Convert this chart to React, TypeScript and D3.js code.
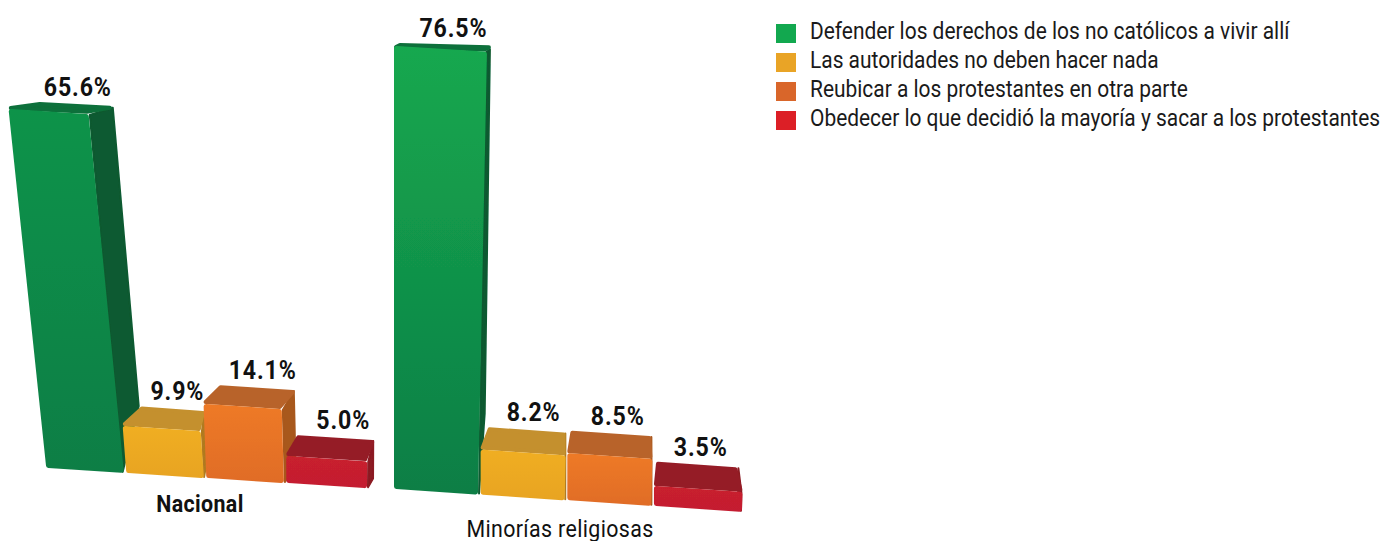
import React from "react";
import * as d3 from "d3";

// ---- data ----
const seriesNames = [
  "Defender los derechos de los no católicos a vivir allí",
  "Las autoridades no deben hacer nada",
  "Reubicar a los protestantes en otra parte",
  "Obedecer lo que decidió la mayoría y sacar a los protestantes",
];
const nacionalValues = [65.6, 9.9, 14.1, 5.0];
const minoriasValues = [76.5, 8.2, 8.5, 3.5];
const groupLabels = ["Nacional", "Minorías religiosas"];

// ---- styles ----
const legendColors = ["#12a84f", "#e9a426", "#d9662a", "#dc1f26"];
const frontBottom = ["#0d7e45", "#e8a424", "#e06c28", "#c41e30"];
const topColors = ["#0d6f3a", "#c4902e", "#b8642a", "#951c26"];
const sideColors = ["#0a5a30", "#b07a20", "#a8581f", "#8c1a22"];

const LABEL_FONT = "Roboto, 'Noto Sans', sans-serif";

// ---- layout of each group (perspective of the picture) ----
const groups = [
  {
    name: groupLabels[0],
    bold: true,
    values: nacionalValues,
    frontTop: ["#10934a", "#f0ae22", "#ee7a26", "#c8202e"],
    xRange: [46, 364],
    widthExtra: [0, 0, 0, 3],
    baseY: 468,
    baseSlope: 0.0627,
    heights: [0, 27, 47, 74, 359],
    knots: [0, 5, 9.9, 14.1, 65.6],
    leanOrigin: 287,
    leanK: 0.00043,
    leanExtra: 0.027,
    depthL: [29, 17, 15, 10],
    depthR: [23, 4, 13, 7],
    labelDx: [3, 5, 6, 8],
    depthY0: 7,
    depthYRef: 110,
    depthYK: 0.04,
    labelX: 200,
    labelY: 512,
  },
  {
    name: groupLabels[1],
    bold: false,
    values: minoriasValues,
    frontTop: ["#15a84f", "#f0ae22", "#ee7a26", "#c8202e"],
    xRange: [394, 738],
    widthExtra: [0, 0, 0, 4],
    baseY: 489,
    baseSlope: 0.0655,
    heights: [0, 20, 45, 47, 443],
    knots: [0, 3.5, 8.2, 8.5, 76.5],
    leanOrigin: 394,
    leanK: 0,
    leanExtra: -0.02,
    depthL: [4, 7, 3, 2],
    depthR: [4, 0, -1, -5],
    labelDx: [9, 7, 7, 4],
    depthY0: 3,
    depthYRef: 45,
    depthYK: 0.048,
    labelX: 560,
    labelY: 537,
  },
];

type P = [number, number];

// shrink a quad towards its middle, so a thick round-joined stroke rounds its corners back out
function inset(pts: P[], r: number): P[] {
  const [cx, cy] = d3.polygonCentroid(pts);
  return pts.map(([x, y]) => {
    const ax = Math.abs(x - cx);
    const ay = Math.abs(y - cy);
    return [
      x - Math.sign(x - cx) * Math.min(r, ax * 0.9),
      y - Math.sign(y - cy) * Math.min(r, ay * 0.9),
    ] as P;
  });
}

function bars(g: (typeof groups)[number], gi: number) {
  const band = d3
    .scaleBand<number>()
    .domain(d3.range(g.values.length))
    .range(g.xRange as [number, number])
    .paddingInner(0.03);
  const h = d3.scaleLinear().domain(g.knots).range(g.heights);
  const lean = (x: number) => g.leanK * (g.leanOrigin - x);
  const depthY = (y: number) => g.depthY0 + (y - g.depthYRef) * g.depthYK;
  const line = d3.line();
  const poly = (pts: P[], r: number) => line(inset(pts, r))! + "Z";

  return g.values.map((v, i) => {
    const bl = band(i)!;
    const br = bl + band.bandwidth() + g.widthExtra[i];
    const by = (x: number) => g.baseY + (x - g.xRange[0]) * g.baseSlope;
    const H = h(v);
    const tl: P = [bl - lean(bl) * H, by(bl) - H];
    const tr: P = [br - (lean(br) + g.leanExtra) * H, by(br) - H];
    const dl = depthY(tl[1]);
    const dr = depthY(tr[1]);
    const bkl: P = [tl[0] + g.depthL[i], tl[1] - dl];
    const bkr: P = [tr[0] + g.depthR[i], tr[1] - dr];
    const front: P[] = [tl, tr, [br, by(br)], [bl, by(bl)]];
    const top: P[] = [tl, bkl, bkr, tr];
    const side: P[] = [
      tr,
      bkr,
      [bkr[0] + (br - tr[0]) * 0.8, bkr[1] + (H + dr) * 0.82],
      [br, by(br)],
    ];
    const lx = (bkl[0] + bkr[0]) / 2 + g.labelDx[i];
    const ly = bkl[1] - 6;
    const gradId = `grad-${gi}-${i}`;
    return (
      <g key={i}>
        <defs>
          <linearGradient
            id={gradId}
            gradientUnits="userSpaceOnUse"
            x1="0"
            x2="0"
            y1={tl[1]}
            y2={by(br)}
          >
            <stop offset="0" stopColor={g.frontTop[i]} />
            <stop offset="1" stopColor={frontBottom[i]} />
          </linearGradient>
        </defs>
        <g filter="url(#soft)" strokeLinejoin="round">
          <path d={poly(side, 1)} fill={sideColors[i]} stroke={sideColors[i]} strokeWidth={2} />
          <path d={poly(top, 2)} fill={topColors[i]} stroke={topColors[i]} strokeWidth={4} />
          <path
            d={poly(front, 2.5)}
            fill={`url(#${gradId})`}
            stroke={`url(#${gradId})`}
            strokeWidth={5}
          />
        </g>
        <text
          transform={`translate(${lx},${ly}) scale(0.89,1)`}
          textAnchor="middle"
          fontFamily={LABEL_FONT}
          fontWeight={700}
          fontSize={26}
          letterSpacing={1}
          fill="#111"
        >
          {v.toFixed(1)}%
        </text>
      </g>
    );
  });
}

export default function App() {
  const legendY = d3.scalePoint<number>().domain(d3.range(4)).range([24, 111]);
  return (
    <svg
      width={1384}
      height={541}
      style={{ position: "absolute", left: 0, top: 0, background: "#fff" }}
    >
      <defs>
        <filter id="soft" x="-10%" y="-10%" width="120%" height="120%">
          <feGaussianBlur stdDeviation={0.7} />
        </filter>
      </defs>
      {groups.map((g, gi) => (
        <g key={g.name}>
          {bars(g, gi)}
          <text
            transform={`translate(${g.labelX},${g.labelY}) scale(0.91,1)`}
            textAnchor="middle"
            fontFamily={LABEL_FONT}
            fontWeight={g.bold ? 700 : 400}
            fontSize={23.5}
            letterSpacing={0.4}
            fill="#111"
          >
            {g.name}
          </text>
        </g>
      ))}
      {seriesNames.map((s, i) => (
        <g key={s}>
          <rect x={776} y={legendY(i)!} width={20} height={19} fill={legendColors[i]} />
          <text
            transform={`translate(810,${legendY(i)! + 15}) scale(0.91,1)`}
            fontFamily={LABEL_FONT}
            fontSize={23}
            fill="#1a1a1a"
          >
            {s}
          </text>
        </g>
      ))}
    </svg>
  );
}
